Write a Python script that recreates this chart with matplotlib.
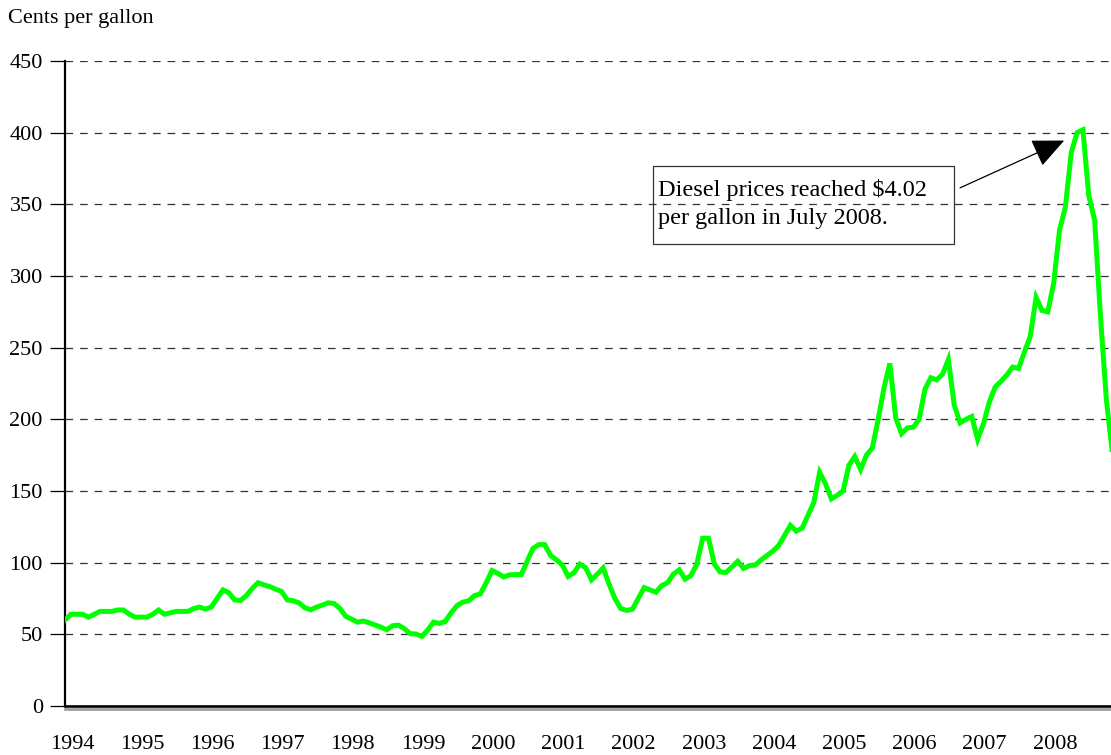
import numpy as np
import matplotlib
matplotlib.use("Agg")
import matplotlib.pyplot as plt
import matplotlib.patheffects as pe
from matplotlib.patches import Rectangle

plt.rcParams['font.family'] = ['Liberation Serif', 'DejaVu Serif']
plt.rcParams['lines.scale_dashes'] = False

# monthly diesel price, cents per gallon, Jan 1994 - Dec 2008
price = [
    60, 64, 64, 64, 62, 64, 66, 66, 66, 67, 67, 64,          # 1994
    62, 62, 62, 64, 67, 64, 65, 66, 66, 66, 68, 69,          # 1995
    67.6, 69, 75, 81, 79, 74, 73.6, 77, 82, 86, 84.5, 83.3,  # 1996
    81.5, 80, 74, 73.4, 72, 68.5, 67.1, 69, 70.4, 72, 71.5, 68,  # 1997
    62.5, 60.6, 58.5, 59.3, 58, 56.5, 55, 53.2, 56, 56.4, 54, 50.5,  # 1998
    50.2, 48.6, 53, 58.5, 57.6, 59, 65, 70, 72.5, 73.4, 77, 78.2,  # 1999
    86, 94.5, 92.5, 90, 91.5, 91.7, 91.7, 101, 110, 112.6, 112.6, 105,  # 2000
    102, 98.5, 90.4, 93, 99, 96.5, 88, 92, 96.3, 85, 75, 68,  # 2001
    66.7, 67.5, 75, 82.6, 81, 79.4, 84, 86, 92, 95, 88.5, 91,  # 2002
    99, 117, 117, 99, 93.5, 93.2, 97, 101, 96, 98, 98.3, 102,  # 2003
    105, 108, 112, 119, 126, 122, 124, 133, 142, 163, 155, 144.5,  # 2004
    147, 150, 168, 174, 165, 175, 180, 200, 222, 239, 201, 190,  # 2005
    194, 194.5, 200, 221, 229, 227.5, 231.5, 241.7, 210, 197.5, 200, 202,  # 2006
    186, 197, 212, 222.5, 226.5, 231, 236.5, 235.5, 247, 258, 285, 276,  # 2007
    275, 295, 332, 348, 386, 400, 402, 356, 339, 272, 214, 178,  # 2008
]
years = [str(y) for y in range(1994, 2009)]
y_ticks = [0, 50, 100, 150, 200, 250, 300, 350, 400, 450]

months = np.arange(len(price))

fig = plt.figure(figsize=(11.11, 7.55), dpi=100)
ax = fig.add_axes([65/1111, 49/755, 1 - 65/1111, 645/755])

# dashed grid
for v in y_ticks[1:]:
    ax.axhline(v, color='#333333', lw=0.9, dashes=(5.5, 5), zorder=1)

ax.plot(months, price, color='#00ff00', lw=3.6, zorder=3, solid_joinstyle='miter')

ax.set_xlim(0, 178.8)
ax.set_ylim(0, 450)
ax.set_yticks(y_ticks)
ax.set_yticklabels([str(v) for v in y_ticks], fontsize=16)
ax.set_xticks([1.2 + 12 * k for k in range(len(years))])
ax.set_xticklabels(years, fontsize=16)
ax.tick_params(axis='x', length=0, pad=21)
ax.tick_params(axis='y', direction='out', length=11, width=0.9, pad=5)

ax.spines['top'].set_visible(False)
ax.spines['right'].set_visible(False)
ax.spines['left'].set_linewidth(1.6)
ax.spines['bottom'].set_linewidth(1.9)
ax.spines['bottom'].set_path_effects([
    pe.SimpleLineShadow(offset=(0, -1.9), shadow_color='#9a9a9a', alpha=1),
    pe.Normal()])

# annotation box and arrow
ax.add_patch(Rectangle((100.5, 322.4), 51.5, 54.4, fill=False,
                       edgecolor='#333333', lw=0.9, zorder=4))
ax.text(101.4, 350.5, 'Diesel prices reached $4.02\nper gallon in July 2008.',
        fontsize=17.5, va='center', ha='left', linespacing=1.45, zorder=5)
ax.annotate('', xy=(170.8, 394.5), xytext=(153, 361.5),
            arrowprops=dict(arrowstyle='-|>,head_length=2.0,head_width=0.9',
                            color='black', lw=0.9, shrinkA=0, shrinkB=0),
            zorder=5)

fig.text(8/1111, 1 - 18/755, 'Cents per gallon', fontsize=16,
         va='center', ha='left')

fig.savefig('out.png', dpi=100)
